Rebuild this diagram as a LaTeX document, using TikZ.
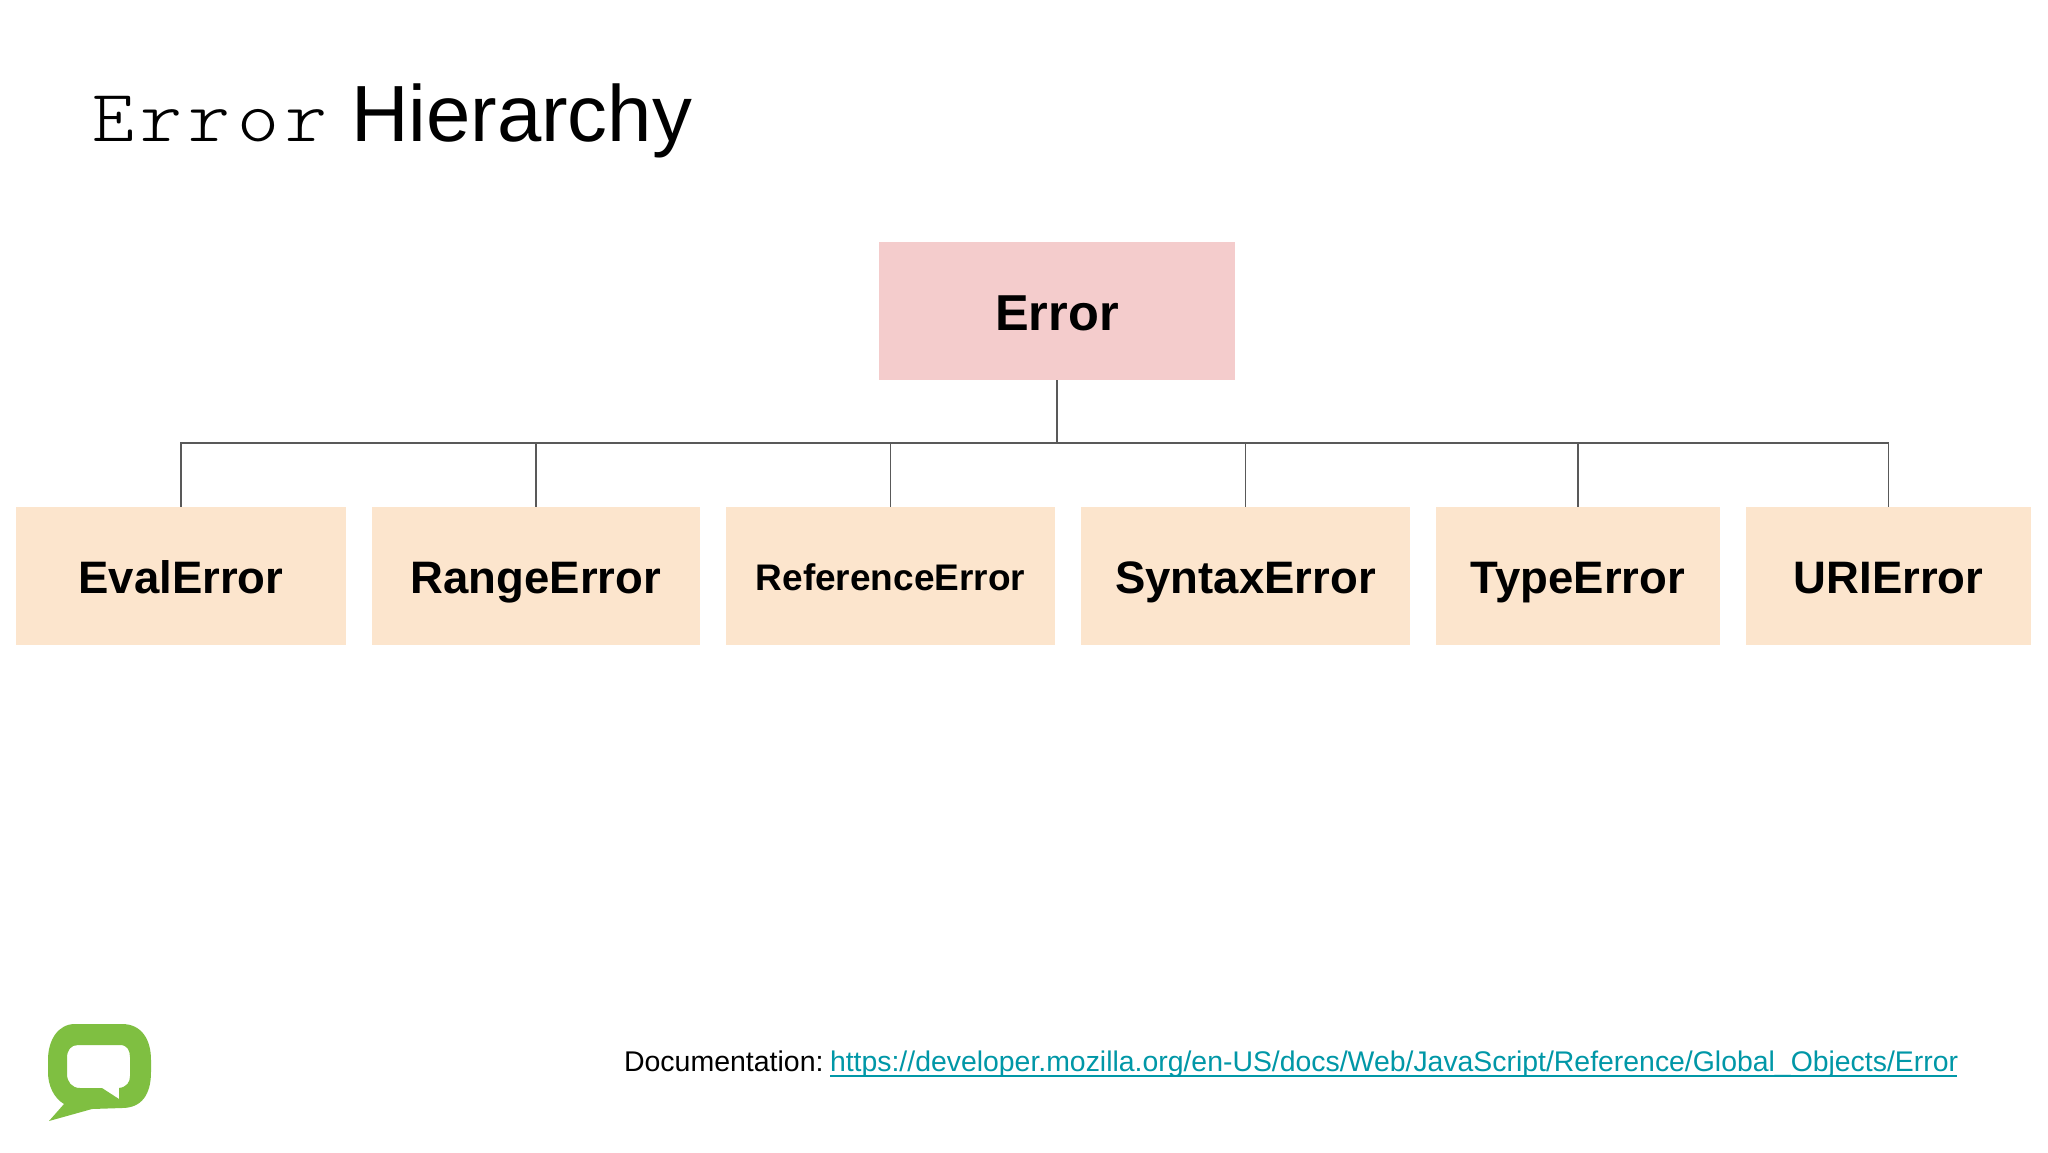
\documentclass[tikz,border=0pt]{standalone}
\usepackage{fontspec}
\setmainfont{Liberation Sans}
\setmonofont{Latin Modern Mono Light}
\definecolor{peach}{HTML}{FCE5CD}
\definecolor{rose}{HTML}{F4CCCC}
\definecolor{wire}{HTML}{595959}
\definecolor{linkc}{HTML}{0097A7}
\definecolor{logoc}{HTML}{7FBF41}
\tikzset{
  px/.style={x=1pt,y=-1pt},
  box/.style={anchor=center,inner sep=0,outer sep=0,minimum height=138pt,fill=peach,text=black,font=\fontsize{45.5}{50}\selectfont\bfseries,text height=34pt,text depth=0pt},
  rootbox/.style={box,fill=rose,minimum height=138.5pt,minimum width=356pt,font=\fontsize{50.5}{54}\selectfont\bfseries,text height=38pt},
  wirel/.style={draw=wire,line width=1.8pt},
  txt/.style={anchor=base west,inner sep=0,outer sep=0},
}
\begin{document}
\begin{tikzpicture}[px]
\useasboundingbox (0,0) rectangle (2048,1152);
\fill[white] (0,0) rectangle (2048,1152);
% title
\node[txt] (t1) at (92,141) {\fontsize{74}{80}\selectfont\scalebox{1.08}[1]{\ttfamily\addfontfeature{LetterSpace=8}Error}};
\node[txt] (t2) at (351,141) {\fontsize{79.7}{90}\selectfont Hierarchy};
% boxes
\node[rootbox] (root) at (1057,311) {Error};
\node[box,minimum width=330pt] (a) at (181,576) {EvalError};
\node[box,minimum width=328pt] (b) at (536,576) {RangeError};
\node[box,minimum width=329pt,font=\fontsize{37}{40}\selectfont\bfseries,text height=28pt] (c) at (890.5,576) {ReferenceError};
\node[box,minimum width=329pt] (d) at (1245.5,576) {SyntaxError};
\node[box,minimum width=284pt] (e) at (1578,576) {TypeError};
\node[box,minimum width=285pt] (f) at (1888.5,576) {URIError};
% connectors
\coordinate (bus) at (1057,443);
\draw[wirel] (root.south) -- (bus);
\foreach \n in {a,b,c,d,e,f}{
  \draw[wirel] (bus) -| (\n.north);
}
% logo
\path[fill=logoc,even odd rule]
  (75,1024) -- (122,1024) .. controls (142,1024) and (151,1040) .. (151,1060)
  -- (151,1072) .. controls (151,1094) and (142,1108) .. (122,1108)
  -- (92,1109) -- (49,1121) -- (64,1104)
  .. controls (54,1098) and (48,1086) .. (48,1072)
  -- (48,1060) .. controls (48,1040) and (58,1024) .. (75,1024) -- cycle
  (78,1045) -- (120,1045) .. controls (127,1045) and (130,1050) .. (130,1057)
  -- (130,1076) .. controls (130,1082) and (127,1087) .. (119,1088)
  -- (119,1099) -- (102,1088) -- (80,1088)
  .. controls (72,1088) and (67,1082) .. (67,1074)
  -- (67,1058) .. controls (67,1050) and (71,1045) .. (78,1045) -- cycle;
% footer
\node[txt] (doc) at (624,1071.5) {\fontsize{28.5}{32}\selectfont Documentation:};
\node[txt,text=linkc] (url) at (830,1071.5) {\fontsize{28.4}{32}\selectfont https://developer.mozilla.org/en-US/docs/Web/JavaScript/Reference/Global\_Objects/Error};
\draw[linkc,line width=2pt] (url.base west)++(0,4.5) -- ++(1127,0);
\end{tikzpicture}
\end{document}
